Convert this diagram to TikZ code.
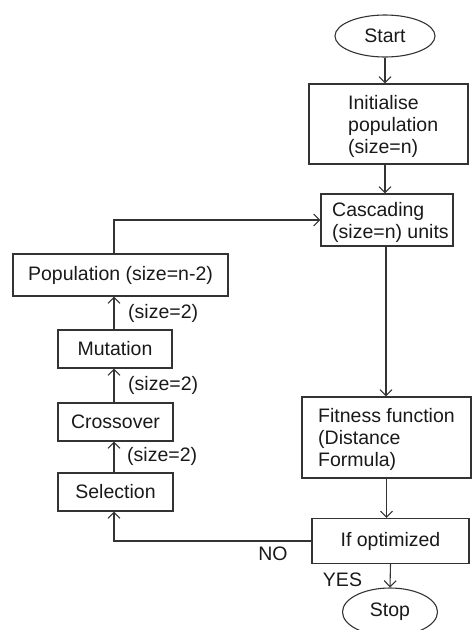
\documentclass[tikz,border=0pt]{standalone}
\usepackage{fontspec}
\setmainfont{Liberation Sans}
\usetikzlibrary{arrows.meta,shapes.geometric}
\begin{document}
\begin{tikzpicture}[x=1pt,y=-1pt,
  line/.style={draw=black!80, line width=1.1pt},
  arr/.style={line, -{Straight Barb[length=6pt,width=12pt]}},
  txt/.style={font=\fontsize{19.5}{22}\selectfont, text=black!90},
  box/.style={line, rectangle, inner sep=0pt, txt},
  oval/.style={line, ellipse, inner sep=0pt, txt},
  lbl/.style={txt, inner sep=0pt}]
\useasboundingbox (0,0) rectangle (472,630);

\node[oval, minimum width=100pt, minimum height=42pt] (start) at (385,36) {Start};
\node[box, minimum width=159pt, minimum height=80pt] (init) at (388.5,124) {};
\node[lbl, anchor=west, align=left] (initT) at (348,126) {Initialise\\population\\(size=n)};
\node[box, minimum width=132pt, minimum height=52pt] (casc) at (387,220) {};
\node[lbl, anchor=west, align=left] (cascT) at (332,222.5) {Cascading\\(size=n) units};
\node[box, minimum width=215pt, minimum height=42pt] (pop) at (120.5,275) {Population (size=n-2)};
\node[box, minimum width=114pt, minimum height=38pt] (mut) at (115,349) {Mutation};
\node[box, minimum width=115pt, minimum height=38pt] (cross) at (115.5,422) {Crossover};
\node[box, minimum width=115pt, minimum height=38pt] (sel) at (115.5,492) {Selection};
\node[box, minimum width=169pt, minimum height=81pt] (fit) at (386.5,437.5) {};
\node[lbl, anchor=west, align=left] (fitT) at (318,439.5) {Fitness function\\(Distance\\Formula)};
\node[box, minimum width=157pt, minimum height=45pt] (opt) at (390.5,541) {If optimized};
\node[oval, minimum width=95pt, minimum height=48pt] (stop) at (390,612) {Stop};

\node[lbl, anchor=west] (s1) at (128,313) {(size=2)};
\node[lbl, anchor=west] (s2) at (128,385) {(size=2)};
\node[lbl, anchor=west] (s3) at (127,456) {(size=2)};
\node[lbl] (no) at (273,554) {NO};
\node[lbl] (yes) at (342.5,580) {YES};

\draw[arr] (start.south) -- (start.south |- init.north);
\draw[arr] ([xshift=-2pt]casc.north |- init.south) -- ([xshift=-2pt]casc.north);
\draw[arr] ([xshift=-1pt]casc.south) -- ([xshift=-1pt]casc.south |- fit.north);
\draw[arr] (fit.south) -- (fit.south |- opt.north);
\draw[arr] (opt.south) -- (stop.north);
\draw[arr] (opt.west) -| ([xshift=-1.5pt]sel.south);
\draw[arr] ([xshift=-1.5pt]sel.north) -- ([xshift=-1.5pt]cross.south);
\draw[arr] ([xshift=-1.5pt]cross.north) -- ([xshift=-1pt]mut.south);
\draw[arr] ([xshift=-1pt]mut.north) -- ([xshift=-1pt]mut.north |- pop.south);
\draw[arr] ([xshift=-1pt]mut.north |- pop.north) |- (casc.west);
\end{tikzpicture}
\end{document}
